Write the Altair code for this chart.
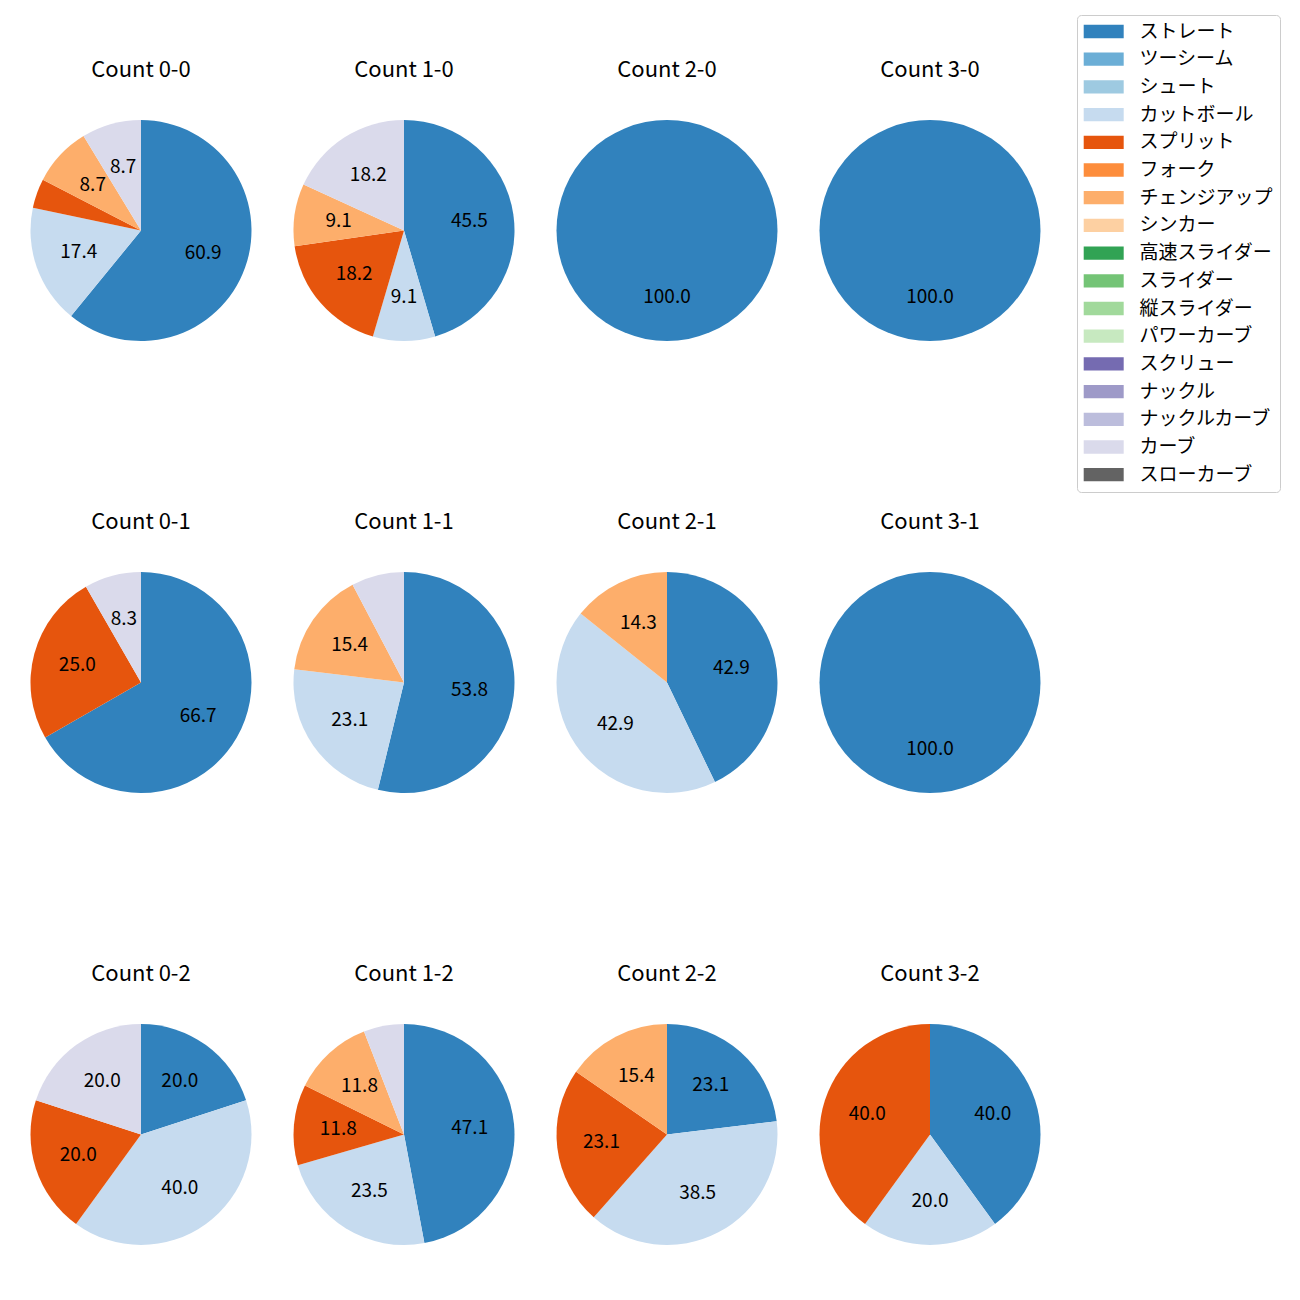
import altair as alt
import pandas as pd

pitch_types = ["ストレート", "ツーシーム", "シュート", "カットボール", "スプリット", "フォーク",
               "チェンジアップ", "シンカー", "高速スライダー", "スライダー", "縦スライダー",
               "パワーカーブ", "スクリュー", "ナックル", "ナックルカーブ", "カーブ", "スローカーブ"]
pitch_colors = ["#3182bd", "#6baed6", "#9ecae1", "#c6dbef", "#e6550d", "#fd8d3c",
                "#fdae6b", "#fdd0a2", "#31a354", "#74c476", "#a1d99b", "#c7e9c0",
                "#756bb1", "#9e9ac8", "#bcbddc", "#dadaeb", "#636363"]

panels = ["Count 0-0", "Count 1-0", "Count 2-0", "Count 3-0",
          "Count 0-1", "Count 1-1", "Count 2-1", "Count 3-1",
          "Count 0-2", "Count 1-2", "Count 2-2", "Count 3-2"]

used_types = ["ストレート", "カットボール", "スプリット", "チェンジアップ", "カーブ"]
count_0_0 = [60.9, 17.4, 4.3, 8.7, 8.7]
count_1_0 = [45.5, 9.1, 18.2, 9.1, 18.2]
count_2_0 = [100.0, 0, 0, 0, 0]
count_3_0 = [100.0, 0, 0, 0, 0]
count_0_1 = [66.7, 0, 25.0, 0, 8.3]
count_1_1 = [53.8, 23.1, 0, 15.4, 7.7]
count_2_1 = [42.9, 42.9, 0, 14.3, 0]
count_3_1 = [100.0, 0, 0, 0, 0]
count_0_2 = [20.0, 40.0, 20.0, 0, 20.0]
count_1_2 = [47.1, 23.5, 11.8, 11.8, 5.9]
count_2_2 = [23.1, 38.5, 23.1, 15.4, 0]
count_3_2 = [40.0, 20.0, 40.0, 0, 0]

series = [count_0_0, count_1_0, count_2_0, count_3_0,
          count_0_1, count_1_1, count_2_1, count_3_1,
          count_0_2, count_1_2, count_2_2, count_3_2]

rows = []
for panel, vals in zip(panels, series):
    for t, v in zip(used_types, vals):
        if v > 0:
            rows.append({"panel": panel, "type": t, "pct": v,
                         "idx": pitch_types.index(t)})
df = pd.DataFrame(rows)

FONT = "Noto Sans CJK JP"

base = alt.Chart(df).encode(
    theta=alt.Theta("pct:Q", stack=True),
    order=alt.Order("idx:Q", sort="ascending"),
)

arc = base.mark_arc(strokeWidth=0).encode(
    color=alt.Color(
        "type:N",
        scale=alt.Scale(domain=pitch_types, range=pitch_colors),
        sort=pitch_types,
        legend=alt.Legend(
            title=None,
            orient="none",
            legendX=1046.5,
            legendY=-105,
            symbolType="M-1.44,-0.98L4.44,-0.98L4.44,0.98L-1.44,0.98Z",
            symbolSize=185,
            symbolStrokeWidth=0,
            labelFont=FONT,
            labelFontSize=19,
            labelColor="#000000",
            labelOffset=36.5,
            rowPadding=7.7,
            padding=7,
            strokeColor="#cccccc",
            fillColor="#ffffff",
            cornerRadius=4,
            symbolLimit=0,
        ),
    )
)

text = base.mark_text(radius=66, font=FONT, fontSize=19, color="#000000").encode(
    text="label:N"
).transform_calculate(
    label="datum.pct > 8 ? format(datum.pct, '.1f') : ''"
)

chart = alt.layer(arc, text).properties(width=221, height=221).facet(
    facet=alt.Facet(
        "panel:N",
        sort=panels,
        title=None,
        header=alt.Header(
            labelFont=FONT,
            labelFontSize=22,
            labelColor="#000000",
            labelPadding=38,
        ),
    ),
    columns=4,
    spacing={"column": 42, "row": 170},
).properties(
    padding={"left": 30.5, "top": 14, "right": 5, "bottom": 5},
).configure_view(stroke=None)

chart.save("out.html", embed_options={"renderer": "svg", "actions": False})
